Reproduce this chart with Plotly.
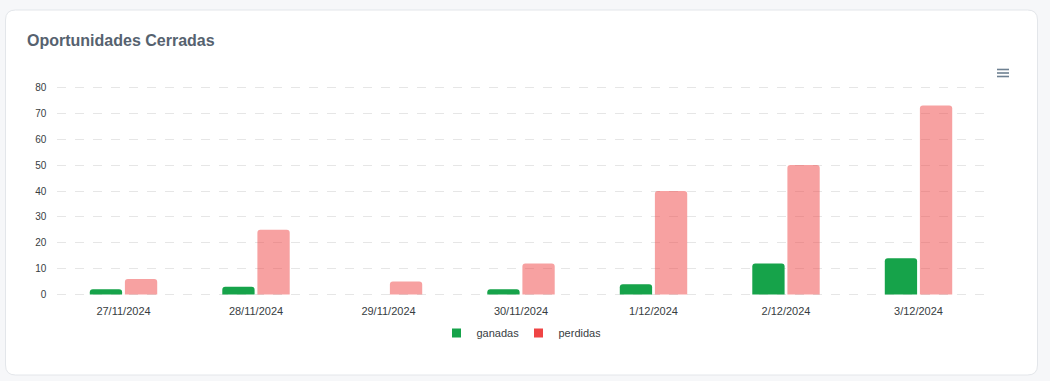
import plotly.graph_objects as go

categories = ["27/11/2024", "28/11/2024", "29/11/2024", "30/11/2024", "1/12/2024", "2/12/2024", "3/12/2024"]
ganadas = [2, 3, 0, 2, 4, 12, 14]
perdidas = [6, 25, 5, 12, 40, 50, 73]
y_ticks = [0, 10, 20, 30, 40, 50, 60, 70, 80]
series_names = ["ganadas", "perdidas"]

W, H = 1050, 381
GREEN = "#16a34a"
RED = "#ef4444"
PINK = "rgba(239,68,68,0.5)"
FONT = "Liberation Sans, Arial, Helvetica, sans-serif"

def px(x):
    return x / W

def py(y):
    return 1 - y / H

# y-axis pixel mapping: value 0 at 294.5 px, value 80 at 87.5 px
Y0_PX, Y80_PX = 294.5, 87.5
PPU = (Y0_PX - Y80_PX) / 80.0
R_LO, R_HI = -1.0, 81.0

fig = go.Figure()
fig.add_trace(go.Bar(x=categories, y=ganadas, name=series_names[0], marker=dict(color=GREEN, cornerradius=3, line=dict(width=0)), showlegend=False))
fig.add_trace(go.Bar(x=categories, y=perdidas, name=series_names[1], marker=dict(color=PINK, cornerradius=3, line=dict(width=0)), showlegend=False))
# legend entries
fig.add_trace(go.Scatter(x=[None], y=[None], mode="markers", name=series_names[0], marker=dict(symbol="square", size=10, color=GREEN, line=dict(color="white", width=1))))
fig.add_trace(go.Scatter(x=[None], y=[None], mode="markers", name=series_names[1], marker=dict(symbol="square", size=10, color=RED, line=dict(color="white", width=1))))

# card path with rounded corners
x0, x1, y0, y1, r = 5.5, 1037.5, 10, 375, 10
path = (f"M {px(x0+r)},{py(y0)} L {px(x1-r)},{py(y0)} Q {px(x1)},{py(y0)} {px(x1)},{py(y0+r)} "
        f"L {px(x1)},{py(y1-r)} Q {px(x1)},{py(y1)} {px(x1-r)},{py(y1)} "
        f"L {px(x0+r)},{py(y1)} Q {px(x0)},{py(y1)} {px(x0)},{py(y1-r)} "
        f"L {px(x0)},{py(y0+r)} Q {px(x0)},{py(y0)} {px(x0+r)},{py(y0)} Z")
shapes = [dict(type="path", xref="paper", yref="paper", path=path, fillcolor="white",
               line=dict(color="#e3e6ea", width=1), layer="below")]
# hamburger menu icon
for yy in [69.5, 73, 76.5]:
    shapes.append(dict(type="line", xref="paper", yref="paper", x0=px(997), x1=px(1009), y0=py(yy), y1=py(yy),
                       line=dict(color="#6e8192", width=1.6)))

fig.update_layout(
    template="none",
    width=W, height=H,
    autosize=False,
    margin=dict(l=0, r=0, t=0, b=0, pad=0, autoexpand=False),
    paper_bgcolor="#f6f7f9",
    plot_bgcolor="rgba(0,0,0,0)",
    font=dict(family=FONT, color="#373d3f", size=11),
    barmode="group",
    bargap=0.47,
    bargroupgap=0.08,
    shapes=shapes,
    showlegend=True,
    legend=dict(orientation="h", x=0.5 - 6.5 / W, xanchor="center", y=py(333), yanchor="middle",
                font=dict(size=11, color="#373d3f"), bgcolor="rgba(0,0,0,0)", itemwidth=30,
                entrywidth=37),
    annotations=[dict(text="<b>Oportunidades Cerradas</b>", xref="paper", yref="paper", x=px(25), y=py(40),
                      xanchor="left", yanchor="middle", showarrow=False,
                      font=dict(size=16, color="#56626f", family=FONT))],
    xaxis=dict(domain=[px(57.25), px(984.75)], type="category", showgrid=False, zeroline=False,
               showline=False, ticks="", tickfont=dict(size=11, color="#373d3f"), ticklabelstandoff=6,
               automargin=False),
    yaxis=dict(domain=[py(Y0_PX - R_LO * PPU), py(Y0_PX - R_HI * PPU)], range=[R_LO, R_HI], tickvals=y_ticks,
               showgrid=True, gridcolor="#e6e6e6", griddash="dash", gridwidth=1, zeroline=False, showline=False,
               tickfont=dict(size=10, color="#373d3f"), ticks="", ticklabelstandoff=10,
               automargin=False),
)

fig.write_html("out.html", config={"displayModeBar": False},
               post_script="document.body.style.margin='0';document.body.style.background='#f6f7f9';")
